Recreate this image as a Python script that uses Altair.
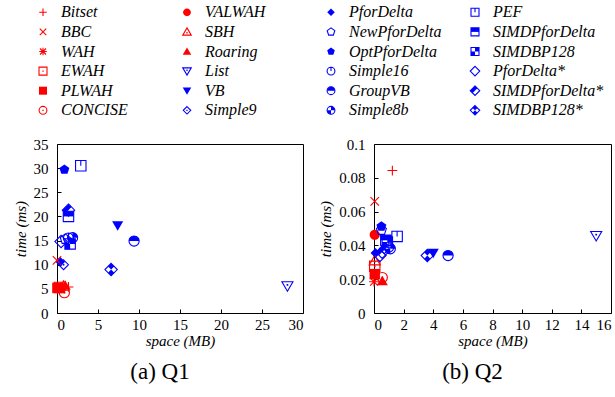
import altair as alt
import pandas as pd

# ---------------- data ----------------
names = ["Bitset", "BBC", "WAH", "EWAH", "PLWAH", "CONCISE",
         "VALWAH", "SBH", "Roaring", "List", "VB", "Simple9",
         "PforDelta", "NewPforDelta", "OptPforDelta", "Simple16", "GroupVB", "Simple8b",
         "PEF", "SIMDPforDelta", "SIMDBP128", "PforDelta*", "SIMDPforDelta*", "SIMDBP128*"]

q1_space = [1.4, 0.0, 0.1, 0.3, 0.05, 0.9,
            0.5, 0.8, 1.0, 28.1, 7.4, 0.8,
            0.4, 1.0, 0.9, 1.4, 9.4, 1.9,
            2.9, 1.4, 1.6, 0.5, 1.4, 6.6]
q1_time = [5.4, 10.9, 5.0, 5.3, 5.2, 4.2,
           5.2, 5.6, 5.7, 5.6, 18.1, 10.0,
           10.6, 15.3, 29.7, 15.5, 14.9, 15.6,
           30.5, 20.0, 14.3, 14.8, 21.3, 9.0]

q2_space = [1.24, 0.05, 0.0, 0.05, 0.05, 0.56,
            0.05, 0.05, 0.56, 15.0, 4.0, 0.7,
            0.1, 0.5, 0.5, 1.0, 5.0, 1.1,
            1.56, 0.8, 0.9, 0.4, 0.55, 3.6]
q2_time = [0.0843, 0.0661, 0.0185, 0.0276, 0.023, 0.021,
           0.0463, 0.031, 0.019, 0.0457, 0.0355, 0.038,
           0.0355, 0.049, 0.0512, 0.039, 0.034, 0.038,
           0.0453, 0.043, 0.042, 0.034, 0.036, 0.034]

legend_col = [i // 6 for i in range(len(names))]
legend_row = [i % 6 for i in range(len(names))]

# ---------------- marker styles ----------------
RED = "#ff0000"
BLUE = "#0000ff"
SQ = "M-0.8,-0.8H0.8V0.8H-0.8Z"
CIRC = "M-0.78,0A0.78,0.78 0 1,0 0.78,0A0.78,0.78 0 1,0 -0.78,0Z"
DOT = "M-0.13,-0.13H0.13V0.13H-0.13Z"
DOT_UP = "M-0.13,0.04H0.13V0.3H-0.13Z"
DOT_DN = "M-0.13,-0.3H0.13V-0.04H-0.13Z"
TRI_UP = "M0,-0.8L0.85,0.65H-0.85Z"
TRI_DN = "M0,0.8L0.85,-0.65H-0.85Z"
DIA = "M0,-0.75L0.75,0L0,0.75L-0.75,0Z"
PENT = "M0,-0.8L0.761,-0.247L0.47,0.647L-0.47,0.647L-0.761,-0.247Z"
BIGD = "M0,-0.95L0.95,0L0,0.95L-0.95,0Z"

STYLE = {
    "Bitset": (RED, "M-0.75,0H0.75M0,-0.75V0.75", ""),
    "BBC": (RED, "M-0.65,-0.65L0.65,0.65M-0.65,0.65L0.65,-0.65", ""),
    "WAH": (RED, "M-0.75,0H0.75M0,-0.75V0.75M-0.6,-0.6L0.6,0.6M-0.6,0.6L0.6,-0.6", ""),
    "EWAH": (RED, SQ, DOT),
    "PLWAH": (RED, "", SQ),
    "CONCISE": (RED, CIRC, DOT),
    "VALWAH": (RED, "", CIRC),
    "SBH": (RED, TRI_UP, DOT_UP),
    "Roaring": (RED, "", TRI_UP),
    "List": (BLUE, TRI_DN, DOT_DN),
    "VB": (BLUE, "", TRI_DN),
    "Simple9": (BLUE, DIA, DOT),
    "PforDelta": (BLUE, "", DIA),
    "NewPforDelta": (BLUE, PENT, ""),
    "OptPforDelta": (BLUE, "", PENT),
    "Simple16": (BLUE, CIRC + "M0,-0.78V0", ""),
    "GroupVB": (BLUE, CIRC, "M-0.78,0A0.78,0.78 0 0,1 0.78,0Z"),
    "Simple8b": (BLUE, CIRC, "M0,0V-0.78A0.78,0.78 0 0,1 0.78,0Z M0,0V0.78A0.78,0.78 0 0,1 -0.78,0Z"),
    "PEF": (BLUE, SQ + "M0,-0.8V0", ""),
    "SIMDPforDelta": (BLUE, SQ, "M-0.8,-0.8H0.8V0H-0.8Z"),
    "SIMDBP128": (BLUE, SQ, "M0,-0.8H0.8V0H0Z M-0.8,0H0V0.8H-0.8Z"),
    "PforDelta*": (BLUE, BIGD, ""),
    "SIMDPforDelta*": (BLUE, BIGD, "M-0.95,0L0,-0.95L0.475,-0.475L-0.475,0.475Z"),
    "SIMDBP128*": (BLUE, BIGD, "M0,-0.95L0.475,-0.475L0,0L-0.475,-0.475Z M0,0.95L0.475,0.475L0,0L-0.475,0.475Z"),
}

SERIF = "Liberation Serif"
PLOT_SIZE = 170
LEG_SIZE = 100


def marker_layers(df, xenc, yenc, size):
    base = alt.Chart(df)
    fill = base.transform_filter("datum.fpath != ''").mark_point(
        filled=True, size=size, opacity=1, strokeWidth=0
    ).encode(x=xenc, y=yenc,
             shape=alt.Shape("fpath:N", scale=None),
             color=alt.Color("color:N", scale=None))
    stroke = base.transform_filter("datum.spath != ''").mark_point(
        filled=False, size=size, opacity=1, strokeWidth=1.1
    ).encode(x=xenc, y=yenc,
             shape=alt.Shape("spath:N", scale=None),
             color=alt.Color("color:N", scale=None))
    return fill, stroke


def style_frame(xs, ys):
    return pd.DataFrame({
        "name": names, "space": xs, "time": ys,
        "color": [STYLE[n][0] for n in names],
        "spath": [STYLE[n][1] for n in names],
        "fpath": [STYLE[n][2] for n in names],
    })


def panel(xs, ys, xdom, xvals, ydom, yvals, caption, cap_dx, width, legend=False):
    df = style_frame(xs, ys)
    xenc = alt.X("space:Q", scale=alt.Scale(domain=xdom, nice=False, zero=False),
                 axis=alt.Axis(values=xvals, title="space (MB)", format="~g"))
    yenc = alt.Y("time:Q", scale=alt.Scale(domain=ydom, nice=False, zero=False),
                 axis=alt.Axis(values=yvals, title="time (ms)", format="~g"))
    f, s = marker_layers(df, xenc, yenc, PLOT_SIZE)
    main = alt.layer(f, s)
    if legend:
        ldf = pd.DataFrame({
            "name": names, "col": legend_col, "row": legend_row,
            "color": [STYLE[n][0] for n in names],
            "spath": [STYLE[n][1] for n in names],
            "fpath": [STYLE[n][2] for n in names],
        })
        lx = alt.X("col:Q", scale=alt.Scale(domain=[0, 3], range=[-14, 418]), axis=None)
        ly = alt.Y("row:Q", scale=alt.Scale(domain=[0, 5], range=[-131.7, -33.7]), axis=None)
        lf, ls = marker_layers(ldf, lx, ly, LEG_SIZE)
        lt = alt.Chart(ldf).mark_text(
            align="left", baseline="middle", dx=18, font=SERIF, fontStyle="italic",
            fontSize=16, color="black"
        ).encode(x=lx, y=ly, text="name:N")
        leg = alt.layer(lf, ls, lt)
        main = alt.layer(main, leg).resolve_scale(x="independent", y="independent")
    return main.properties(
        width=width, height=169,
        title=alt.TitleParams(text=caption, orient="bottom", anchor="middle", frame="group",
                              font=SERIF, fontSize=23, fontWeight="normal", color="black",
                              dx=cap_dx, offset=13),
    )


left = panel(q1_space, q1_time, [0, 30], [0, 5, 10, 15, 20, 25, 30],
             [0, 35], [0, 5, 10, 15, 20, 25, 30, 35], "(a) Q1", -20, 246, legend=True)
right = panel(q2_space, q2_time, [0, 16], [0, 2, 4, 6, 8, 10, 12, 14, 16],
              [0, 0.1], [0, 0.02, 0.04, 0.06, 0.08, 0.1], "(b) Q2", -20, 237)

chart = alt.hconcat(left, right, spacing=71, bounds="flush").properties(
    padding={"left": 12, "top": 3, "right": 0, "bottom": 0},
    background="white",
).configure_view(
    stroke="black", strokeWidth=1
).configure_axis(
    domain=False, grid=False,
    ticks=True, tickSize=4, tickColor="black", tickWidth=1,
    labelFont=SERIF, labelFontSize=15, labelColor="black",
    titleFont=SERIF, titleFontSize=15, titleFontStyle="italic", titleFontWeight="normal",
    titleColor="black",
).configure_axisY(
    offset=-4, labelPadding=9, titlePadding=5
).configure_axisX(
    offset=-4, labelPadding=4, titlePadding=1
)

chart.save("out.html", embed_options={"renderer": "svg", "actions": False})
